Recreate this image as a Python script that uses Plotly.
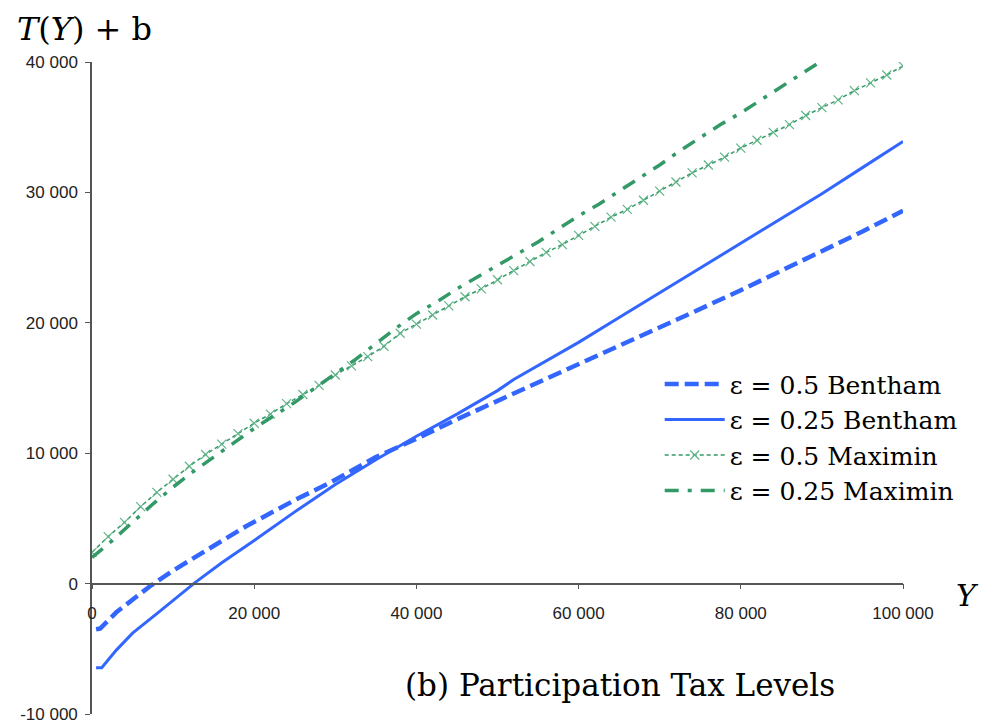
import plotly.graph_objects as go

# ---- data ----
bentham05_x = [500, 1000, 3000, 5000, 7150, 10000, 15000, 19000, 25000, 29350, 35000, 40000,
               45000, 50000, 55240, 60000, 65000, 70000, 74000, 80000, 87300, 90000, 95000, 100000]
bentham05_y = [-3500, -3450, -2200, -1200, -200, 1000, 2900, 4400, 6400, 7740, 9700, 11100,
               12600, 14000, 15490, 16800, 18200, 19600, 20780, 22500, 24690, 25500, 27000, 28600]

bentham025_x = [500, 1200, 3000, 5000, 8000, 10000, 12700, 16000, 20000, 25000, 30000, 35000, 40000,
                45000, 50000, 52000, 55000, 60000, 65000, 70000, 75000, 80000, 85000, 90000, 95000, 100000]
bentham025_y = [-6450, -6450, -5100, -3800, -2300, -1300, 80, 1600, 3300, 5500, 7600, 9500, 11300,
                13000, 14800, 15650, 16700, 18500, 20400, 22300, 24200, 26050, 27950, 29900, 31900, 33900]

maximin05_x = [0, 2000, 4000, 6000, 8000, 10000, 12000, 14000, 16000, 18000, 20000, 22000, 24000,
               26000, 28000, 30000, 32000, 34000, 36000, 38000, 40000, 42000, 44000, 46000, 48000,
               50000, 52000, 54000, 56000, 58000, 60000, 62000, 64000, 66000, 68000, 70000, 72000,
               74000, 76000, 78000, 80000, 82000, 84000, 86000, 88000, 90000, 92000, 94000, 96000,
               98000, 100000]
maximin05_y = [2400, 3600, 4700, 5900, 7000, 8000, 9000, 9900, 10700, 11500, 12300, 13000, 13800,
               14500, 15200, 16000, 16700, 17400, 18200, 19200, 19900, 20600, 21300, 22000, 22600,
               23300, 24000, 24700, 25400, 26000, 26700, 27400, 28100, 28700, 29400, 30100, 30800,
               31500, 32100, 32700, 33400, 34000, 34600, 35200, 35900, 36500, 37100, 37800, 38400,
               39000, 39700]

maximin025_x = [0, 2500, 5000, 7500, 10000, 12500, 15000, 17500, 20000, 22500, 25000, 27500, 30000,
                32500, 35000, 37500, 40000, 42500, 45000, 47500, 50000, 52500, 55000, 57500, 60000,
                62500, 65000, 67500, 70000, 72500, 75000, 77500, 80000, 82500, 85000, 87500, 90000]
maximin025_y = [2000, 3300, 4700, 6100, 7400, 8600, 9700, 10800, 11900, 12900, 13900, 15000, 16100,
                17200, 18400, 19600, 20700, 21600, 22600, 23500, 24400, 25300, 26200, 27200, 28200,
                29100, 30100, 31100, 32100, 33200, 34200, 35200, 36100, 37100, 38100, 39100, 40100]

x_ticks = [0, 20000, 40000, 60000, 80000, 100000]
x_ticktext = ["0", "20 000", "40 000", "60 000", "80 000", "100 000"]
y_ticks = [-10000, 0, 10000, 20000, 30000, 40000]
y_ticktext = ["-10 000", "0", "10 000", "20 000", "30 000", "40 000"]

BLUE = "#3366ff"
GREEN = "#339966"
SERIF = "DejaVu Serif"

fig = go.Figure()
fig.add_trace(go.Scatter(
    x=bentham05_x, y=bentham05_y, mode="lines", name="ε = 0.5 Bentham",
    line=dict(color=BLUE, width=4.5, dash="14px,6px")))
fig.add_trace(go.Scatter(
    x=bentham025_x, y=bentham025_y, mode="lines", name="ε = 0.25 Bentham",
    line=dict(color=BLUE, width=3)))
fig.add_trace(go.Scatter(
    x=maximin05_x, y=maximin05_y, mode="lines+markers", name="ε = 0.5 Maximin",
    line=dict(color=GREEN, width=1.5, dash="4px,3px"),
    marker=dict(symbol="x-thin", size=9, line=dict(color="#5fb487", width=1.2), color="#5fb487")))
fig.add_trace(go.Scatter(
    x=maximin025_x, y=maximin025_y, mode="lines", name="ε = 0.25 Maximin",
    line=dict(color=GREEN, width=3.5, dash="14px,9px,4px,9px")))

axis_common = dict(showgrid=False, zeroline=False, showline=True, linecolor="#555555",
                   linewidth=1.5, ticks="outside", ticklen=5, tickcolor="#555555",
                   automargin=False,
                   tickfont=dict(family="Liberation Sans, Arial", size=17, color="#222222"))

fig.update_layout(
    width=982, height=724,
    margin=dict(l=92, r=79, t=62, b=10, autoexpand=False),
    paper_bgcolor="white", plot_bgcolor="white",
    xaxis=dict(range=[0, 100000], tickvals=x_ticks, ticktext=x_ticktext,
               anchor="free", position=0.2, ticklabelstandoff=9, **axis_common),
    yaxis=dict(range=[-10000, 40000], tickvals=y_ticks, ticktext=y_ticktext,
               ticklabelstandoff=4, **axis_common),
    legend=dict(x=0.70, y=0.541, xanchor="left", yanchor="top",
                font=dict(family=SERIF, size=25, color="black"),
                bgcolor="rgba(0,0,0,0)", tracegroupgap=0, itemwidth=60),
    showlegend=True,
)

fig.add_annotation(text="<i>T</i>(<i>Y</i>) + b", xref="paper", yref="paper",
                   x=-0.095, y=1.05, xanchor="left", yanchor="middle", showarrow=False,
                   font=dict(family=SERIF, size=32, color="black"))
fig.add_annotation(text="<i>Y</i>", xref="paper", yref="paper",
                   x=1.08, y=0.181, xanchor="center", yanchor="middle", showarrow=False,
                   font=dict(family=SERIF, size=30, color="black"))
fig.add_annotation(text="(b) Participation Tax Levels", xref="paper", yref="paper",
                   x=0.651, y=0.045, xanchor="center", yanchor="middle", showarrow=False,
                   font=dict(family=SERIF, size=31, color="black"))

fig.write_html("out.html", config={"displayModeBar": False},
               post_script="document.body.style.margin='0';")
